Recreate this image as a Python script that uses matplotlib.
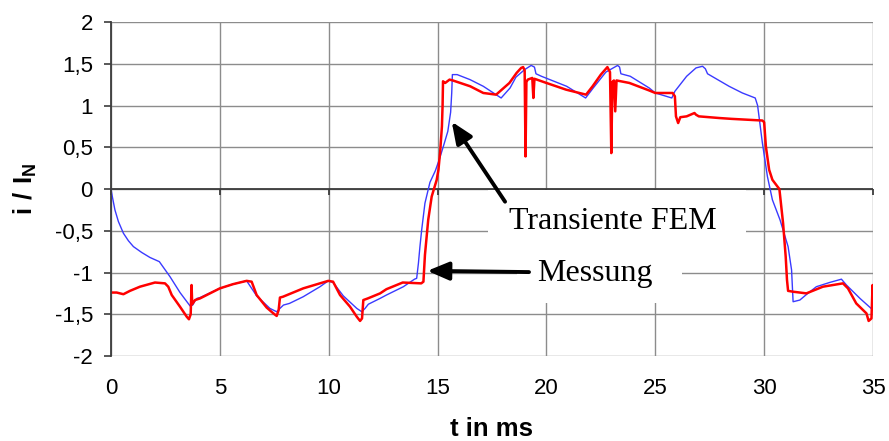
import matplotlib
matplotlib.use("Agg")
import matplotlib.pyplot as plt
from matplotlib.patches import Rectangle

plt.rcParams['font.family'] = ['Liberation Sans', 'DejaVu Sans']
plt.rcParams['mathtext.fontset'] = 'custom'
plt.rcParams['mathtext.rm'] = 'Liberation Sans'
plt.rcParams['mathtext.bf'] = 'Liberation Sans:bold'

# Transient FEM simulation (time in ms, current normalised to I_N)
fem_t = [0.00, 0.06, 0.18, 0.34, 0.57, 0.80, 1.03, 1.41, 1.79, 2.22, 2.71, 3.17,
         3.63, 3.75, 3.86, 3.95, 4.09, 4.50, 5.00, 5.60, 6.23, 6.69, 7.30, 7.61,
         7.76, 7.92, 8.20, 8.83, 9.60, 9.98, 10.20, 10.67, 11.29, 11.52, 11.67,
         11.82, 12.36, 12.65, 13.43, 13.94, 14.04, 14.12, 14.19, 14.27, 14.42,
         14.65, 14.90, 15.10, 15.30, 15.47, 15.60, 15.65, 15.68, 15.90, 16.49,
         17.10, 17.92, 18.33, 18.60, 19.00, 19.30, 19.45, 19.52, 19.77, 20.93,
         21.80, 22.15, 22.73, 23.27, 23.36, 23.42, 23.85, 24.72, 25.00, 25.76,
         25.90, 26.44, 26.87, 27.17, 27.30, 27.40, 28.39, 29.00, 29.59, 29.70,
         29.92, 30.15, 30.38, 30.73, 31.10, 31.26, 31.33, 31.64, 31.96, 32.40,
         33.00, 33.55, 33.78, 34.40, 35.00]
fem_i = [0.00, -0.09, -0.25, -0.39, -0.53, -0.62, -0.69, -0.76, -0.82, -0.87, -1.05, -1.24,
         -1.40, -1.39, -1.34, -1.31, -1.30, -1.25, -1.19, -1.14, -1.10, -1.28, -1.43, -1.47,
         -1.43, -1.39, -1.37, -1.29, -1.17, -1.10, -1.12, -1.28, -1.43, -1.47, -1.43,
         -1.38, -1.31, -1.27, -1.17, -1.08, -1.07, -0.89, -0.69, -0.49, -0.17,
         0.08, 0.22, 0.37, 0.54, 0.69, 0.92, 1.15, 1.37, 1.37, 1.31,
         1.23, 1.09, 1.21, 1.34, 1.43, 1.48, 1.46, 1.38, 1.35, 1.23,
         1.09, 1.21, 1.40, 1.48, 1.46, 1.38, 1.35, 1.21, 1.15, 1.09,
         1.17, 1.35, 1.45, 1.47, 1.44, 1.38, 1.23, 1.15, 1.09, 1.00,
         0.55, 0.15, -0.13, -0.37, -0.69, -0.97, -1.35, -1.33, -1.26, -1.17,
         -1.12, -1.08, -1.15, -1.31, -1.45]

# Measured current
meas_t = [0.00, 0.26, 0.57, 0.87, 1.33, 2.02, 2.48, 2.63, 2.79, 3.17, 3.48, 3.58,
          3.66, 3.70, 3.73, 3.86, 4.09, 5.00, 5.60, 6.23, 6.46, 6.69, 7.15, 7.46,
          7.61, 7.70, 7.76, 7.90, 8.83, 9.98, 10.20, 10.52, 10.98, 11.29, 11.44,
          11.53, 11.59, 11.80, 12.36, 12.65, 13.40, 14.25, 14.35, 14.42, 14.57,
          14.73, 14.96, 15.04, 15.12, 15.20, 15.23, 15.25, 15.35, 15.55, 15.70,
          16.50, 17.10, 17.69, 18.30, 18.63, 18.84, 18.93, 19.00, 19.04, 19.08,
          19.14, 19.35, 19.40, 19.45, 20.00, 20.90, 21.82, 22.12, 22.50, 22.80,
          22.92, 22.98, 23.03, 23.10, 23.16, 23.22, 23.81, 24.72, 25.00, 25.80,
          25.90, 25.95, 26.05, 26.15, 26.44, 26.80, 26.87, 27.00, 27.94, 28.50,
          29.92, 30.00, 30.08, 30.23, 30.38, 30.61, 30.70, 30.87, 30.99, 31.05,
          31.10, 31.33, 31.94, 32.70, 33.62, 33.85, 34.23, 34.70, 34.80, 34.93,
          34.98, 35.00]
meas_i = [-1.24, -1.24, -1.26, -1.22, -1.17, -1.12, -1.13, -1.17, -1.27, -1.41, -1.53, -1.56,
          -1.50, -1.15, -1.38, -1.33, -1.31, -1.19, -1.14, -1.10, -1.11, -1.27, -1.42, -1.49,
          -1.52, -1.45, -1.30, -1.29, -1.19, -1.10, -1.11, -1.27, -1.41, -1.53, -1.58,
          -1.55, -1.33, -1.31, -1.25, -1.20, -1.12, -1.13, -1.11, -0.79, -0.37,
          -0.09, 0.11, 0.23, 0.45, 0.75, 1.00, 1.29, 1.27, 1.31, 1.30,
          1.23, 1.15, 1.13, 1.27, 1.39, 1.45, 1.46, 1.42, 0.39, 1.28,
          1.31, 1.33, 1.09, 1.32, 1.27, 1.19, 1.13, 1.23, 1.37, 1.46,
          1.40, 0.43, 1.28, 1.30, 0.93, 1.30, 1.27, 1.18, 1.15, 1.15,
          1.11, 0.87, 0.79, 0.86, 0.87, 0.91, 0.89, 0.87, 0.85, 0.84,
          0.82, 0.80, 0.51, 0.23, 0.11, 0.03, 0.00, -0.41, -0.81, -1.09,
          -1.22, -1.23, -1.25, -1.17, -1.13, -1.19, -1.37, -1.49, -1.58, -1.55,
          -1.15, -1.25]

x_ticks = [0, 5, 10, 15, 20, 25, 30, 35]
x_tick_labels = ['0', '5', '10', '15', '20', '25', '30', '35']
y_ticks = [-2, -1.5, -1, -0.5, 0, 0.5, 1, 1.5, 2]
y_tick_labels = ['-2', '-1,5', '-1', '-0,5', '0', '0,5', '1', '1,5', '2']

fig = plt.figure(figsize=(8.89, 4.41), dpi=100)
ax = fig.add_axes([0.12486, 0.19274, 0.85714, 0.75737])
ax.set_xlim(0, 35)
ax.set_ylim(-2, 2)
ax.set_axisbelow(True)

grid_col = '#8c8c8c'
axis_col = '#3c3c3c'

ax.set_xticks(x_ticks)
ax.set_xticklabels(x_tick_labels)
ax.set_yticks(y_ticks)
ax.set_yticklabels(y_tick_labels)
ax.grid(True, color=grid_col, linewidth=1.0)
ax.tick_params(axis='x', length=0, pad=16, labelsize=16)
ax.tick_params(axis='y', direction='out', length=5, width=1.2, color=axis_col,
               pad=8, labelsize=16)
for s in ('top', 'right', 'bottom'):
    ax.spines[s].set_visible(False)
ax.spines['left'].set_color(axis_col)
ax.spines['left'].set_linewidth(1.3)

# category axis crossing at zero, with downward tick marks
ax.axhline(0, color=axis_col, linewidth=1.3, zorder=1.5)
ax.plot(x_ticks, [0] * len(x_ticks), ls='none', marker=3, ms=4.5,
        mew=1.3, color=axis_col, zorder=1.5, clip_on=False)

ax.plot(fem_t, fem_i, color='#3a3aff', linewidth=1.0, zorder=2)
ax.plot(meas_t, meas_i, color='#ff0000', linewidth=1.8, zorder=2.1)

# white label boxes
ax.add_patch(Rectangle((17.32, -0.73), 11.85, 0.718, facecolor='white',
                       edgecolor='none', zorder=3))
ax.add_patch(Rectangle((18.65, -1.365), 7.58, 0.635, facecolor='white',
                       edgecolor='none', zorder=3))

arrow = dict(arrowstyle='-|>,head_length=1.3,head_width=0.55', color='black',
             lw=2.8, shrinkA=0, shrinkB=0, mutation_scale=10)
ax.annotate('', xy=(15.65, 0.806), xytext=(18.10, -0.152),
            arrowprops=arrow, zorder=4)
ax.annotate('', xy=(14.53, -0.98), xytext=(19.2, -0.995),
            arrowprops=arrow, zorder=4)

ax.text(23.03, -0.48, 'Transiente FEM', family='Liberation Serif', fontsize=23,
        ha='center', va='baseline', zorder=5)
ax.text(22.21, -1.10, 'Messung', family='Liberation Serif', fontsize=23,
        ha='center', va='baseline', zorder=5)

fig.text(492 / 889, 5 / 441, 't in ms', fontsize=18.5, fontweight='bold',
         ha='center', va='baseline')
fig.text(25 / 889, 1 - 189 / 441, r'$\mathbf{i\ /\ I}_\mathbf{N}$', fontsize=18.5,
         rotation=90, ha='center', va='center')

fig.savefig('out.png', dpi=100)
